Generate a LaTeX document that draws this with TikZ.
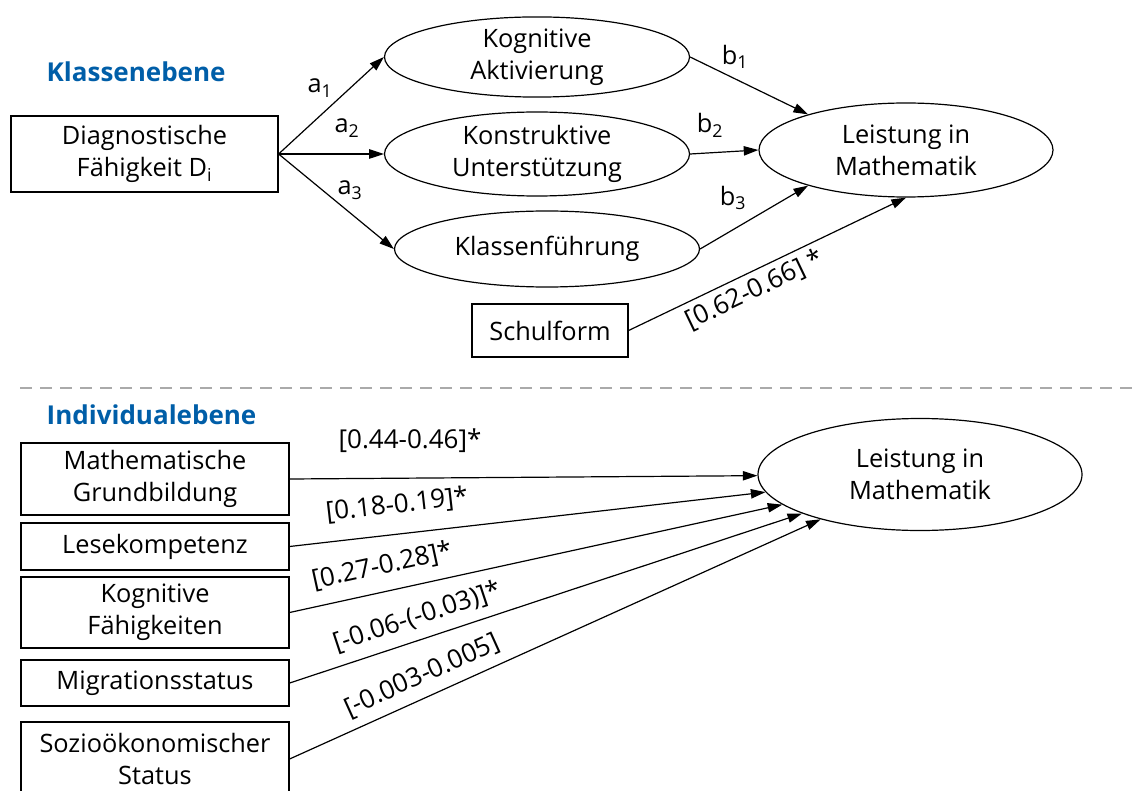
\documentclass[tikz,border=0pt]{standalone}
\usepackage{fontspec}
\setmainfont{Open Sans}
\usetikzlibrary{shapes.geometric,arrows.meta}
\definecolor{hblue}{RGB}{0,94,168}
\definecolor{sepgray}{RGB}{170,170,170}
\begin{document}
\begin{tikzpicture}[x=0.75pt,y=-0.75pt,
  every node/.style={font=\fontsize{19}{24}\selectfont},
  box/.style={draw,line width=0.9pt,rectangle,inner sep=0pt,align=center},
  ell/.style={draw,line width=0.9pt,ellipse,inner sep=0pt,align=center},
  arr/.style={-{Triangle[length=11pt,width=7pt]},line width=0.9pt},
  heading/.style={anchor=west,text=hblue,font=\fontsize{19.5}{22}\selectfont\bfseries},
  lbl/.style={inner sep=1pt},
  coef/.style={inner sep=1pt,font=\fontsize{19.5}{22}\selectfont}]
\useasboundingbox (0,0) rectangle (1137,791);
\clip (0,0) rectangle (1137,791);

% headings
\node[heading] (h1) at (42,72) {Klassenebene};
\node[heading] (h2) at (42,415) {Individualebene};

% separator
\draw[sepgray,line width=1.1pt,dash pattern=on 9pt off 6pt] (20,388) -- (1137,388);

% upper level
\node[box,minimum width=200.25pt,minimum height=57pt] (diag) at (144.5,154) {Diagnostische\\Fähigkeit D\textsubscript{i}};
\node[ell,minimum width=228.75pt,minimum height=60pt] (ka) at (537,57) {Kognitive\\Aktivierung};
\node[ell,minimum width=228.75pt,minimum height=63pt] (ku) at (537,154) {Konstruktive\\Unterstützung};
\node[ell,minimum width=228.75pt,minimum height=57pt] (kf) at (547,249) {Klassenführung};
\node[ell,minimum width=220.5pt,minimum height=70.5pt] (lm1) at (906,150) {Leistung in\\Mathematik};
\node[box,minimum width=117pt,minimum height=39.75pt] (sf) at (550,330.5) {Schulform};

\draw[arr] (diag.east) -- (ka.west);
\draw[arr] (diag.east) -- (ku.west);
\draw[arr] (diag.east) -- (kf.west);
\draw[arr] (ka.east) -- (lm1.160);
\draw[arr] (ku.east) -- (lm1.west);
\draw[arr] (kf.east) -- (lm1.200);
\draw[arr] (sf.east) -- (lm1.south);

\node[lbl] (la1) at (320,88) {a\textsubscript{1}};
\node[lbl] (la2) at (347,128) {a\textsubscript{2}};
\node[lbl] (la3) at (350,190) {a\textsubscript{3}};
\node[lbl] (lb1) at (735,57) {b\textsubscript{1}};
\node[lbl] (lb2) at (710,125) {b\textsubscript{2}};
\node[lbl] (lb3) at (733,198) {b\textsubscript{3}};
\node[coef,rotate=25.6] (lsf) at (755,290) {[0.62-0.66] *};

% lower level
\node[box,minimum width=201pt,minimum height=54pt] (mg) at (155,479) {Mathematische\\Grundbildung};
\node[box,minimum width=201pt,minimum height=35.25pt] (lk) at (155,546.5) {Lesekompetenz};
\node[box,minimum width=201pt,minimum height=53.25pt] (kfa) at (155,612.5) {Kognitive\\Fähigkeiten};
\node[box,minimum width=201pt,minimum height=34.5pt] (mig) at (155,683) {Migrationsstatus};
\node[box,minimum width=201pt,minimum height=55.5pt] (sz) at (155,759) {Sozioökonomischer\\Status};
\node[ell,minimum width=243pt,minimum height=84pt] (lm2) at (920,474.5) {Leistung in\\Mathematik};

\draw[arr] (mg.east) -- (lm2);
\draw[arr] (lk.east) -- (lm2);
\draw[arr] (kfa.east) -- (lm2);
\draw[arr] (mig.east) -- (lm2);
\draw[arr] (sz.east) -- (lm2);

\node[coef] (l1) at (410,441) {[0.44-0.46]*};
\node[coef,rotate=6.5] (l2) at (397,505) {[0.18-0.19]*};
\node[coef,rotate=12.3] (l3) at (382,566) {[0.27-0.28]*};
\node[coef,rotate=18.3] (l4) at (417,617) {[-0.06-(-0.03)]*};
\node[coef,rotate=24.3] (l5) at (422,676) {[-0.003-0.005]};
\end{tikzpicture}
\end{document}
